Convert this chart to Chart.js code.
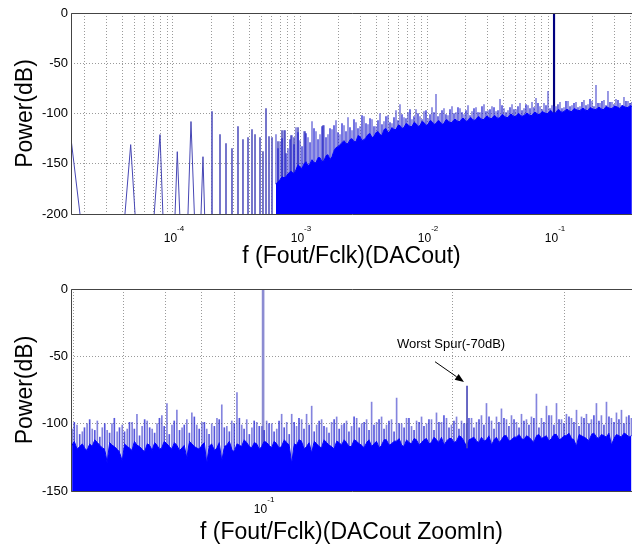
<!DOCTYPE html>
<html>
<head>
<meta charset="utf-8">
<script src="https://cdn.jsdelivr.net/npm/chart.js@4.4.1/dist/chart.umd.min.js"></script>
<style>
  html, body { margin: 0; padding: 0; background: #fff; }
  #wrap { position: relative; width: 632px; height: 544px; overflow: hidden; }
  canvas { position: absolute; left: 0; }
  #topChart { top: 0; }
  #zoomChart { top: 270px; }
</style>
</head>
<body>
<div id="wrap">
  <canvas id="topChart" width="632" height="270"></canvas>
  <canvas id="zoomChart" width="632" height="274"></canvas>
</div>
<script>
/* =======================
   DATA - full spectrum (top)
======================= */
const topRange = [1.574e-5, 0.411];
const topDecades = [1e-4, 1e-3, 1e-2, 1e-1];

// isolated low-frequency tones (line, dips run below -200)
const lowF  = [1.574e-5, 1.977e-5, 4.003e-5, 4.644e-5, 5.206e-5, 6.834e-5, 7.901e-5, 8.495e-5,
               1.018e-4, 1.081e-4, 1.156e-4, 1.289e-4, 1.386e-4, 1.503e-4, 1.632e-4, 1.722e-4, 1.803e-4];
const lowDb = [-125, -230, -230, -131, -230, -230, -121, -230,
               -230, -138, -230, -230, -108, -230, -230, -143, -230];

// sparse spurs between 2e-4 and 2e-3
const sparseF  = [2.028e-4, 2.345e-4, 2.614e-4, 2.914e-4, 3.249e-4, 3.556e-4, 3.896e-4, 4.188e-4,
                  4.423e-4, 4.842e-4, 5.110e-4, 5.399e-4, 5.700e-4, 6.019e-4, 6.710e-4, 7.218e-4,
                  7.618e-4, 8.495e-4, 8.971e-4, 9.645e-4, 1.095e-3, 1.518e-3];
const sparseDb = [-98, -121, -130, -135, -113, -126, -124, -116,
                  -121, -124, -138, -95, -123, -124, -128, -117,
                  -117, -122, -124, -114, -118, -112];

// dense noise, main samples
const topF = [6.47e-4, 6.96e-4, 7.48e-4, 8.04e-4, 8.65e-4, 9.30e-4, 1.000e-3, 1.075e-3, 1.156e-3, 1.243e-3,
  1.336e-3, 1.437e-3, 1.545e-3, 1.661e-3, 1.786e-3, 1.920e-3, 2.065e-3, 2.220e-3, 2.387e-3, 2.566e-3,
  2.759e-3, 2.967e-3, 3.190e-3, 3.430e-3, 3.688e-3, 3.965e-3, 4.263e-3, 4.584e-3, 4.928e-3, 5.299e-3,
  5.698e-3, 6.126e-3, 6.587e-3, 7.082e-3, 7.615e-3, 8.187e-3, 8.803e-3, 9.465e-3, 1.018e-2, 1.094e-2,
  1.177e-2, 1.265e-2, 1.360e-2, 1.463e-2, 1.573e-2, 1.691e-2, 1.818e-2, 1.955e-2, 2.102e-2, 2.260e-2,
  2.430e-2, 2.613e-2, 2.809e-2, 3.021e-2, 3.248e-2, 3.492e-2, 3.755e-2, 4.037e-2, 4.341e-2, 4.667e-2,
  5.018e-2, 5.396e-2, 5.801e-2, 6.238e-2, 6.707e-2, 7.211e-2, 7.753e-2, 8.336e-2, 8.963e-2, 9.637e-2,
  0.1036, 0.1114, 0.1198, 0.1288, 0.1385, 0.1489, 0.1601, 0.1721, 0.1851, 0.1990,
  0.2140, 0.2300, 0.2473, 0.2659, 0.2859, 0.3074, 0.3305, 0.3554, 0.3821, 0.410];
const topFloorDb = [-170, -166, -164, -160, -158, -156, -153, -150, -152, -146,
  -149, -144, -147, -141, -143, -134, -131, -127, -130, -125,
  -128, -123, -126, -121, -124, -119, -121, -116, -119, -114,
  -116, -112, -114, -111, -113, -110, -112, -109, -111, -108,
  -110, -108, -110, -107, -109, -106, -108, -105, -107, -105,
  -106, -104, -106, -103, -105, -103, -104, -102, -104, -101,
  -103, -101, -102, -100, -102, -99, -101, -99, -100, -98,
  -99, -97, -98, -96, -98, -96, -97, -95, -97, -95,
  -96, -94, -96, -94, -95, -93, -95, -93, -94, -93];
const topPeakDb = [-121, -128, -117, -135, -122, -114, -127, -118, -124, -108,
  -118, -121, -112, -121, -116, -107, -121, -112, -104, -117,
  -109, -113, -103, -111, -106, -113, -100, -108, -102, -110,
  -97, -91, -104, -99, -106, -96, -103, -98, -105, -94,
  -81, -100, -95, -102, -93, -99, -95, -101, -92, -98,
  -94, -99, -91, -97, -93, -98, -86, -95, -97, -91,
  -96, -90, -95, -92, -89, -85, -93, -90, -78, -92,
  -93, -89, -94, -88, -92, -89, -93, -87, -91, -88,
  -72, -90, -87, -78, -89, -86, -90, -84, -88, -89];

// dense noise, in-between samples
const topMidF = [6.71e-4, 7.22e-4, 7.76e-4, 8.34e-4, 8.97e-4, 9.64e-4, 1.037e-3, 1.115e-3, 1.199e-3, 1.289e-3,
  1.386e-3, 1.490e-3, 1.602e-3, 1.722e-3, 1.852e-3, 1.991e-3, 2.141e-3, 2.302e-3, 2.475e-3, 2.661e-3,
  2.861e-3, 3.077e-3, 3.308e-3, 3.557e-3, 3.824e-3, 4.111e-3, 4.420e-3, 4.753e-3, 5.110e-3, 5.495e-3,
  5.908e-3, 6.352e-3, 6.830e-3, 7.343e-3, 7.896e-3, 8.489e-3, 9.128e-3, 9.814e-3, 1.056e-2, 1.134e-2,
  1.220e-2, 1.312e-2, 1.410e-2, 1.517e-2, 1.631e-2, 1.753e-2, 1.885e-2, 2.027e-2, 2.180e-2, 2.343e-2,
  2.520e-2, 2.709e-2, 2.913e-2, 3.132e-2, 3.368e-2, 3.621e-2, 3.894e-2, 4.186e-2, 4.501e-2, 4.839e-2,
  5.203e-2, 5.595e-2, 6.015e-2, 6.468e-2, 6.955e-2, 7.477e-2, 8.039e-2, 8.644e-2, 9.294e-2, 9.993e-2,
  0.1074, 0.1155, 0.1242, 0.1336, 0.1436, 0.1544, 0.1660, 0.1785, 0.1919, 0.2063,
  0.2219, 0.2385, 0.2564, 0.2757, 0.2965, 0.3188, 0.3427, 0.3685, 0.3962];
const topMidFloorDb = [-168, -163, -163, -158, -160, -151, -155, -148, -150, -149,
  -144, -148, -142, -146, -137, -133, -129, -130, -126, -128,
  -122, -127, -124, -120, -123, -118, -122, -115, -118, -116,
  -112, -115, -110, -113, -109, -113, -108, -112, -107, -111,
  -107, -111, -106, -109, -106, -108, -105, -108, -104, -107,
  -103, -106, -103, -105, -102, -105, -101, -104, -101, -103,
  -100, -103, -100, -102, -99, -101, -98, -100, -97, -100,
  -96, -99, -96, -98, -95, -97, -95, -97, -94, -96,
  -94, -96, -93, -95, -93, -94, -92, -94, -92];
const topMidPeakDb = [-135, -125, -140, -126, -131, -119, -133, -120, -129, -115,
  -126, -113, -124, -115, -112, -119, -110, -118, -114, -106,
  -115, -102, -110, -105, -113, -107, -111, -103, -109, -104,
  -107, -101, -105, -96, -103, -100, -106, -97, -101, -99,
  -103, -97, -101, -96, -100, -94, -99, -97, -102, -95,
  -99, -93, -98, -96, -94, -97, -92, -99, -94, -96,
  -93, -97, -91, -95, -94, -90, -96, -92, -95, -93,
  -91, -95, -88, -93, -90, -94, -89, -92, -86, -93,
  -90, -88, -92, -89, -91, -87, -92, -88, -90];

// carrier
const toneF = [0.1];
const toneDb = [0];

/* =======================
   DATA - zoom in (bottom)
======================= */
const zoomRange = [0.0496, 0.3844];
const zoomDecades = [0.1];

const zoomF = [0.0498, 0.0507, 0.0517, 0.0526, 0.0536, 0.0546, 0.0556, 0.0566, 0.0576, 0.0587,
  0.0598, 0.0609, 0.0620, 0.0631, 0.0643, 0.0655, 0.0667, 0.0679, 0.0691, 0.0704,
  0.0717, 0.0730, 0.0744, 0.0757, 0.0771, 0.0785, 0.0800, 0.0814, 0.0829, 0.0845,
  0.0860, 0.0876, 0.0892, 0.0909, 0.0925, 0.0942, 0.0960, 0.0977, 0.0995, 0.1013,
  0.1032, 0.1051, 0.1070, 0.1090, 0.1110, 0.1130, 0.1151, 0.1172, 0.1194, 0.1216,
  0.1238, 0.1261, 0.1284, 0.1308, 0.1332, 0.1356, 0.1381, 0.1407, 0.1433, 0.1459,
  0.1486, 0.1513, 0.1541, 0.1569, 0.1598, 0.1628, 0.1658, 0.1688, 0.1719, 0.1751,
  0.1783, 0.1816, 0.1849, 0.1883, 0.1918, 0.1953, 0.1989, 0.2026, 0.2063, 0.2101,
  0.2140, 0.2179, 0.2219, 0.2260, 0.2302, 0.2344, 0.2387, 0.2431, 0.2476, 0.2522,
  0.2568, 0.2615, 0.2663, 0.2712, 0.2762, 0.2813, 0.2865, 0.2918, 0.2972, 0.3026,
  0.3082, 0.3139, 0.3197, 0.3255, 0.3315, 0.3376, 0.3438, 0.3502, 0.3566, 0.3632,
  0.3699, 0.3767, 0.3836];
const zoomFloorDb = [-116, -119, -115, -120, -117, -114, -118, -129, -116, -119,
  -128, -117, -120, -116, -119, -115, -120, -116, -118, -115,
  -119, -116, -118, -126, -115, -118, -116, -130, -115, -118,
  -128, -116, -119, -115, -117, -114, -118, -115, -117, -114,
  -118, -115, -117, -114, -130, -116, -113, -117, -122, -115,
  -118, -114, -117, -113, -116, -114, -117, -113, -116, -114,
  -117, -113, -116, -112, -115, -113, -116, -112, -115, -112,
  -114, -111, -114, -112, -110, -113, -111, -113, -110, -117,
  -111, -113, -110, -112, -116, -110, -112, -109, -112, -110,
  -111, -109, -112, -109, -111, -109, -111, -108, -111, -109,
  -111, -117, -109, -111, -108, -110, -108, -110, -116, -108,
  -110, -108, -109];
const zoomPeakDb = [-104, -101, -106, -100, -104, -98, -103, -105, -100, -106,
  -101, -104, -99, -93, -102, -98, -104, -100, -94, -85,
  -101, -90, -103, -97, -92, -101, -99, -104, -100, -96,
  -86, -102, -98, -77, -101, -97, -103, -99, -102, -98,
  -100, -104, -93, -99, -93, -102, -97, -93, -87, -101,
  -97, -103, -99, -95, -101, -98, -102, -96, -100, -97,
  -84, -99, -95, -101, -97, -81, -100, -96, -102, -98,
  -95, -100, -97, -92, -99, -96, -101, -95, -98, -100,
  -96, -99, -94, -85, -98, -95, -89, -97, -94, -99,
  -93, -97, -95, -78, -96, -87, -94, -85, -97, -93,
  -96, -90, -95, -93, -97, -85, -94, -84, -96, -92,
  -90, -95, -96];

const zoomMidF = [0.0502, 0.0512, 0.0521, 0.0531, 0.0541, 0.0551, 0.0561, 0.0571, 0.0581, 0.0592,
  0.0603, 0.0614, 0.0625, 0.0637, 0.0649, 0.0661, 0.0673, 0.0685, 0.0697, 0.0710,
  0.0723, 0.0737, 0.0750, 0.0764, 0.0778, 0.0792, 0.0807, 0.0821, 0.0837, 0.0852,
  0.0868, 0.0884, 0.0900, 0.0917, 0.0933, 0.0951, 0.0968, 0.0986, 0.1004, 0.1022,
  0.1041, 0.1060, 0.1080, 0.1100, 0.1120, 0.1140, 0.1161, 0.1183, 0.1205, 0.1227,
  0.1249, 0.1272, 0.1296, 0.1320, 0.1344, 0.1368, 0.1394, 0.1420, 0.1446, 0.1472,
  0.1499, 0.1527, 0.1555, 0.1583, 0.1613, 0.1643, 0.1673, 0.1703, 0.1735, 0.1767,
  0.1799, 0.1832, 0.1866, 0.1900, 0.1935, 0.1971, 0.2007, 0.2044, 0.2082, 0.2120,
  0.2159, 0.2199, 0.2239, 0.2281, 0.2323, 0.2365, 0.2409, 0.2453, 0.2499, 0.2545,
  0.2591, 0.2639, 0.2687, 0.2737, 0.2787, 0.2839, 0.2891, 0.2945, 0.2999, 0.3054,
  0.3110, 0.3168, 0.3226, 0.3285, 0.3345, 0.3407, 0.3470, 0.3534, 0.3599, 0.3665,
  0.3733, 0.3801];
const zoomMidFloorDb = [-113, -117, -118, -115, -112, -116, -119, -114, -117, -121,
  -115, -118, -113, -117, -121, -116, -114, -119, -113, -117,
  -114, -120, -116, -113, -117, -119, -114, -117, -120, -114,
  -117, -113, -121, -116, -112, -117, -114, -119, -113, -116,
  -113, -118, -112, -116, -115, -112, -119, -114, -113, -117,
  -112, -116, -119, -114, -112, -117, -112, -115, -118, -112,
  -115, -118, -112, -116, -113, -111, -117, -114, -111, -116,
  -112, -115, -110, -114, -116, -111, -114, -109, -113, -112,
  -110, -114, -113, -109, -112, -114, -109, -113, -110, -108,
  -112, -110, -114, -108, -110, -113, -108, -112, -109, -107,
  -112, -108, -110, -113, -107, -111, -109, -107, -111, -109,
  -107, -110];
const zoomMidPeakDb = [-99, -108, -103, -97, -105, -110, -100, -107, -96, -103,
  -106, -99, -104, -109, -97, -103, -107, -96, -102, -108,
  -98, -105, -101, -107, -95, -104, -99, -108, -102, -97,
  -103, -106, -100, -96, -104, -108, -98, -102, -105, -100,
  -106, -98, -103, -108, -99, -96, -104, -101, -106, -98,
  -102, -107, -97, -104, -100, -106, -95, -103, -99, -105,
  -101, -97, -104, -98, -106, -100, -103, -96, -105, -99,
  -102, -97, -105, -99, -94, -103, -98, -104, -100, -96,
  -103, -97, -101, -95, -104, -99, -96, -102, -97, -103,
  -98, -101, -96, -103, -99, -94, -101, -97, -100, -95,
  -99, -102, -96, -100, -94, -98, -101, -95, -99, -97,
  -100, -94];

// worst spur
const spurF = [0.2105];
const spurDb = [-72];

/* =======================
   HELPERS
======================= */
const FONT = '"Liberation Sans", Arial, Helvetica, sans-serif';
const gridColor = '#9a9a9a';
const spikeColor = 'rgba(50,50,200,0.6)';
const midSpikeColor = 'rgba(30,30,210,0.75)';

function points(xs, ys) {
  return xs.map((x, i) => ({ x: x, y: ys[i] }));
}

// both sample sets on one sorted polyline
function merged(xa, ya, xb, yb) {
  return points(xa, ya).concat(points(xb, yb)).sort((p, q) => p.x - q.x);
}

function spans(xs, lo, hi) {
  return xs.map((x, i) => ({ x: x, y: [Array.isArray(lo) ? lo[i] : lo, hi[i]] }));
}

// 1..9 x 10^n grid lines inside the range
function logGrid(range) {
  const out = [];
  for (let e = Math.floor(Math.log10(range[0])); e <= Math.ceil(Math.log10(range[1])); e++) {
    for (let m = 1; m < 10; m++) {
      const v = m * Math.pow(10, e);
      if (v > range[0] * 1.002 && v < range[1] * 0.998) out.push(v);
    }
  }
  return out;
}

function scales(range, yMin, xTitle, xHeight, titlePad) {
  const grid = logGrid(range);
  return {
    x: {
      type: 'logarithmic',
      min: range[0],
      max: range[1],
      offset: false,
      afterBuildTicks: s => { s.ticks = grid.map(v => ({ value: v })); },
      afterFit: s => { s.height = xHeight; },
      ticks: { display: false },
      grid: { color: gridColor, lineWidth: 1, drawTicks: false, offset: false },
      border: { display: false, dash: [1, 2] },
      title: {
        display: true, text: xTitle, color: '#000',
        font: { family: FONT, size: 23, lineHeight: 1 },
        padding: { top: 0, bottom: titlePad }
      }
    },
    y: {
      min: yMin,
      max: 0,
      afterFit: s => { s.width = 71; },
      ticks: { stepSize: 50, color: '#000', padding: 3, font: { family: FONT, size: 13 } },
      grid: { color: gridColor, lineWidth: 1, drawTicks: false },
      border: { display: false, dash: [1, 2] },
      title: {
        display: true, text: 'Power(dB)', color: '#000',
        font: { family: FONT, size: 23, lineHeight: 1 },
        padding: { top: 14.5, bottom: 0 }
      }
    }
  };
}

/* =======================
   PLUGINS
======================= */
// axes box (the right side is cut off in the picture)
const frame = {
  id: 'frame',
  afterDatasetsDraw(chart) {
    const { ctx, chartArea: a } = chart;
    ctx.save();
    ctx.strokeStyle = '#444';
    ctx.lineWidth = 1;
    ctx.beginPath();
    ctx.moveTo(a.right + 1, a.top + 0.5);
    ctx.lineTo(a.left + 0.5, a.top + 0.5);
    ctx.lineTo(a.left + 0.5, a.bottom + 0.5);
    ctx.lineTo(a.right + 1, a.bottom + 0.5);
    ctx.stroke();
    ctx.restore();
  }
};

// 10^n labels with a raised exponent
const powerTicks = {
  id: 'powerTicks',
  afterDraw(chart, args, opts) {
    const { ctx } = chart;
    const xs = chart.scales.x;
    ctx.save();
    ctx.fillStyle = '#000';
    ctx.textBaseline = 'middle';
    ctx.textAlign = 'left';
    opts.values.forEach(v => {
      const sup = String(Math.round(Math.log10(v)));
      const px = xs.getPixelForValue(v);
      ctx.font = '12px ' + FONT;
      const w1 = ctx.measureText('10').width;
      ctx.font = '8px ' + FONT;
      const w2 = ctx.measureText(sup).width;
      const x0 = px - (w1 + w2) / 2 + 1;
      ctx.font = '12px ' + FONT;
      ctx.fillText('10', x0, xs.top + opts.dy);
      ctx.font = '8px ' + FONT;
      ctx.fillText(sup, x0 + w1, xs.top + opts.dy - 10);
    });
    ctx.restore();
  }
};

// "Worst Spur" text and arrow, placed in data coordinates
const spurNote = {
  id: 'spurNote',
  afterDatasetsDraw(chart, args, o) {
    if (!o.text) return;
    const { ctx } = chart;
    const { x, y } = chart.scales;
    const tx = x.getPixelForValue(o.textAt[0]), ty = y.getPixelForValue(o.textAt[1]);
    const x1 = x.getPixelForValue(o.from[0]), y1 = y.getPixelForValue(o.from[1]);
    const x2 = x.getPixelForValue(o.to[0]), y2 = y.getPixelForValue(o.to[1]);
    ctx.save();
    ctx.fillStyle = '#000';
    ctx.strokeStyle = '#000';
    ctx.font = '13px ' + FONT;
    ctx.textAlign = 'center';
    ctx.textBaseline = 'middle';
    ctx.fillText(o.text, tx, ty);

    const ang = Math.atan2(y2 - y1, x2 - x1);
    const len = 9, half = 3.5;
    const bx = x2 - len * Math.cos(ang), by = y2 - len * Math.sin(ang);
    ctx.lineWidth = 1;
    ctx.beginPath();
    ctx.moveTo(x1, y1);
    ctx.lineTo(bx, by);
    ctx.stroke();
    ctx.beginPath();
    ctx.moveTo(x2, y2);
    ctx.lineTo(bx + half * Math.sin(ang), by - half * Math.cos(ang));
    ctx.lineTo(bx - half * Math.sin(ang), by + half * Math.cos(ang));
    ctx.closePath();
    ctx.fill();
    ctx.restore();
  }
};

const common = {
  responsive: false,
  animation: false,
  events: []
};

/* =======================
   TOP CHART
======================= */
new Chart(document.getElementById('topChart'), {
  type: 'line',
  data: {
    datasets: [
      { type: 'line', data: merged(topF, topFloorDb, topMidF, topMidFloorDb), fill: 'start',
        backgroundColor: '#0000ff', borderColor: '#0000ff', borderWidth: 1, pointRadius: 0, clip: 0, order: 1 },
      { type: 'bar', data: spans(topF, topFloorDb, topPeakDb), backgroundColor: spikeColor,
        barThickness: 1, grouped: false, clip: 0, order: 2 },
      { type: 'bar', data: spans(topMidF, topMidFloorDb, topMidPeakDb), backgroundColor: midSpikeColor,
        barThickness: 1, grouped: false, clip: 0, order: 2 },
      { type: 'bar', data: spans(sparseF, -200, sparseDb), backgroundColor: '#5a5ac0',
        barThickness: 1, grouped: false, clip: 0, order: 3 },
      { type: 'line', data: points(lowF, lowDb), fill: false, borderColor: '#4646b4',
        borderWidth: 1, pointRadius: 0, clip: 0, order: 3 },
      { type: 'bar', data: spans(toneF, -100, toneDb), backgroundColor: '#000080',
        barThickness: 1.5, grouped: false, clip: 0, order: 2 }
    ]
  },
  options: Object.assign({}, common, {
    layout: { padding: { top: 13, left: 0, right: 0, bottom: 0 } },
    scales: scales(topRange, -200, 'f (Fout/Fclk)(DACout)', 56, 1.5),
    plugins: {
      legend: { display: false },
      tooltip: { enabled: false },
      powerTicks: { values: topDecades, dy: 25 },
      spurNote: {}
    }
  }),
  plugins: [frame, powerTicks, spurNote]
});

/* =======================
   ZOOM CHART
======================= */
new Chart(document.getElementById('zoomChart'), {
  type: 'line',
  data: {
    datasets: [
      { type: 'line', data: merged(zoomF, zoomFloorDb, zoomMidF, zoomMidFloorDb), fill: 'start',
        backgroundColor: '#0000ff', borderColor: '#0000ff', borderWidth: 1, pointRadius: 0, clip: 0, order: 1 },
      { type: 'bar', data: spans(zoomF, zoomFloorDb, zoomPeakDb), backgroundColor: spikeColor,
        barThickness: 1, grouped: false, clip: 0, order: 2 },
      { type: 'bar', data: spans(zoomMidF, zoomMidFloorDb, zoomMidPeakDb), backgroundColor: midSpikeColor,
        barThickness: 1, grouped: false, clip: 0, order: 2 },
      { type: 'bar', data: spans(toneF, -118, toneDb), backgroundColor: '#8c8cd2',
        barThickness: 2, grouped: false, clip: 0, order: 2 },
      { type: 'bar', data: spans(spurF, -118, spurDb), backgroundColor: '#4a4ab8',
        barThickness: 1, grouped: false, clip: 0, order: 0 }
    ]
  },
  options: Object.assign({}, common, {
    layout: { padding: { top: 19, left: 0, right: 0, bottom: 0 } },
    scales: scales(zoomRange, -150, 'f (Fout/Fclk)(DACout ZoomIn)', 53, 0),
    plugins: {
      legend: { display: false },
      tooltip: { enabled: false },
      powerTicks: { values: zoomDecades, dy: 19 },
      spurNote: { text: 'Worst Spur(-70dB)', textAt: [0.1986, -41], from: [0.1873, -54], to: [0.2082, -69] }
    }
  }),
  plugins: [frame, powerTicks, spurNote]
});
</script>
</body>
</html>
